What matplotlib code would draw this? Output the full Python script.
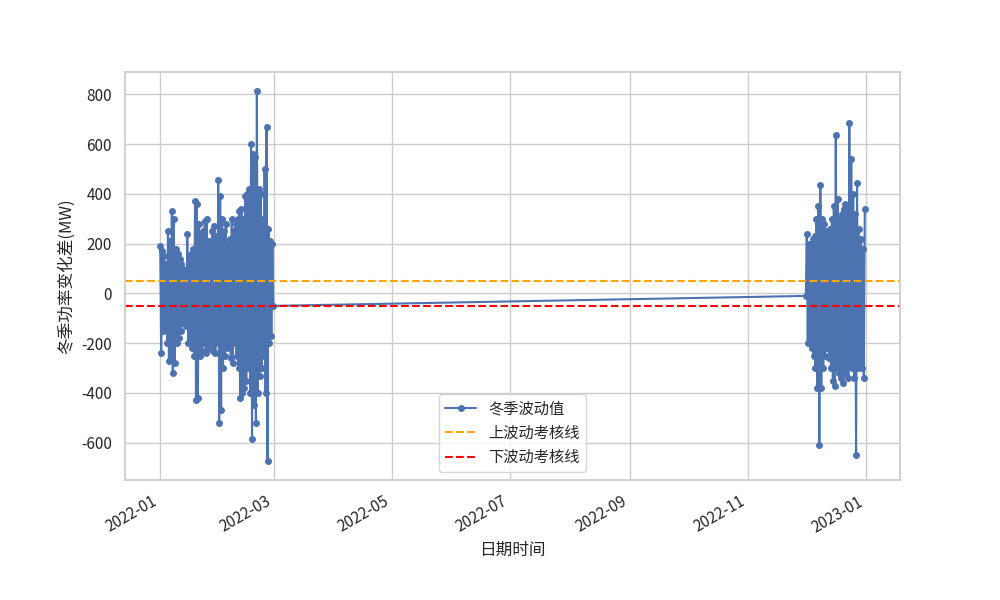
import numpy as np
import pandas as pd
import matplotlib
matplotlib.use("Agg")
import matplotlib.pyplot as plt
import seaborn as sns

sns.set_theme(style="whitegrid")
plt.rcParams['font.family'] = ['Noto Sans CJK SC', 'DejaVu Sans']
plt.rcParams['axes.unicode_minus'] = False

# daily high / low fluctuation estimates (MW)
hi_jan = [190, 170, 150, 120, 250, 210, 330, 300, 180, 160, 140, 120, 100, 90, 240, 150,
          160, 180, 370, 360, 280, 240, 250, 290, 300, 210, 200, 250, 270, 230, 455]
lo_jan = [-240, -150, -130, -200, -270, -250, -320, -280, -200, -180, -150, -120, -100, -130,
          -200, -180, -220, -250, -430, -420, -250, -230, -200, -240, -220, -200, -190, -230,
          -240, -200, -520]
hi_feb = [390, 300, 250, 280, 200, 220, 300, 250, 280, 300, 330, 340, 300, 390, 400, 420,
          600, 560, 550, 815, 420, 400, 300, 500, 670, 260, 210, 200]
lo_feb = [-470, -300, -250, -220, -200, -260, -280, -200, -250, -300, -420, -400, -380, -350,
          -300, -400, -585, -450, -520, -400, -330, -300, -250, -400, -675, -200, -170, -50]
hi_dec = [240, 200, 180, 220, 230, 300, 350, 435, 300, 280, 250, 230, 260, 300, 350, 635,
          380, 300, 320, 340, 360, 340, 685, 540, 400, 320, 445, 260, 220, 180, 340]
lo_dec = [-10, -200, -180, -220, -250, -300, -380, -610, -380, -300, -250, -220, -260, -300,
          -350, -370, -300, -320, -340, -360, -320, -300, -340, -280, -300, -340, -650, -300,
          -280, -300, -340]
upper_line = 50
lower_line = -50


def series(start, hi, lo):
    days = pd.date_range(start, periods=len(hi), freq="D")
    t, v = [], []
    for d, h, l in zip(days, hi, lo):
        t += [d, d + pd.Timedelta(hours=12)]
        v += [h, l]
    return t, v


t1, v1 = series("2022-01-01", hi_jan + hi_feb, lo_jan + lo_feb)
# December starts with its low so the gap line links the two lows
t2, v2 = series("2022-12-01", lo_dec, hi_dec)
t = t1 + t2
v = v1 + v2

fig, ax = plt.subplots(figsize=(10, 6), dpi=100)
ax.plot(t, v, marker='o', markersize=4, color='#4c72b0', label='冬季波动值')
ax.axhline(upper_line, color='orange', linestyle='--', label='上波动考核线')
ax.axhline(lower_line, color='red', linestyle='--', label='下波动考核线')
ax.set_xlabel('日期时间')
ax.set_ylabel('冬季功率变化差(MW)')
ax.set_yticks(range(-600, 801, 200))
ax.legend(loc='lower center', bbox_to_anchor=(0.5, 0.0))
fig.autofmt_xdate()
plt.savefig('out.png')
